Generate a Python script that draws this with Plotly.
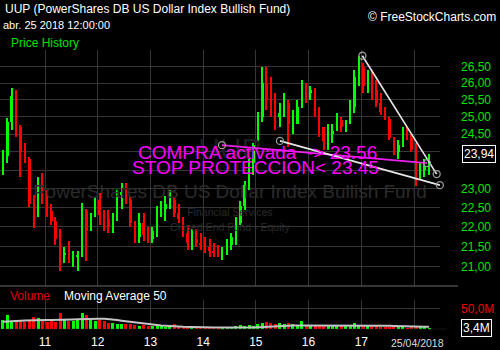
import numpy as np
import pandas as pd
import plotly.graph_objects as go

# ---------------- data: UUP monthly bars, Mar 2010 - Apr 2018 ----------------
months = pd.date_range("2010-03-01", periods=98, freq="MS") + pd.Timedelta(days=14)

first_open = 23.60
close = [23.90, 24.85, 25.60, 24.70, 24.00, 23.80, 22.60, 22.30, 23.10, 22.90,
         22.40, 22.15, 21.70, 21.30, 21.35, 21.20, 21.25, 21.30, 22.40, 21.90,
         22.30, 22.70, 22.30, 22.20, 22.00, 22.20, 22.85, 22.90, 22.70, 22.10,
         21.75, 22.10, 21.80, 21.70, 21.90, 22.40, 22.45, 22.60, 22.70, 22.35,
         22.20, 21.85, 21.60, 21.70, 21.60, 21.55, 21.50, 21.40, 21.35, 21.30,
         21.30, 21.55, 21.75, 22.10, 22.55, 23.10, 23.70, 24.20, 25.00, 26.00,
         25.50, 25.30, 25.00, 25.10, 25.40, 24.80, 24.80, 25.30, 25.90, 25.70,
         25.80, 25.20, 24.70, 24.30, 24.50, 24.60, 24.90, 24.70, 24.80, 25.30,
         26.20, 26.50, 25.90, 26.00, 25.80, 25.40, 25.15, 24.95, 24.40, 24.00,
         24.20, 24.60, 24.40, 24.05, 23.50, 23.50, 23.60, 23.94]
high = [24.05, 24.98, 25.84, 25.80, 24.75, 24.25, 23.85, 22.83, 23.30, 23.42,
        22.95, 22.60, 22.25, 21.95, 21.50, 21.65, 21.40, 21.40, 22.62, 22.45,
        22.35, 22.78, 22.87, 22.43, 22.43, 22.35, 22.95, 23.15, 23.15, 22.80,
        22.15, 22.35, 22.35, 22.00, 22.00, 22.55, 22.68, 22.80, 22.95, 22.78,
        22.60, 22.25, 22.05, 21.95, 21.95, 21.85, 21.75, 21.68, 21.60, 21.55,
        21.50, 21.68, 21.85, 22.25, 22.68, 23.20, 23.79, 24.25, 25.15, 26.50,
        26.50, 26.20, 25.70, 25.40, 25.70, 25.50, 25.20, 25.50, 26.10, 26.00,
        25.90, 25.85, 25.30, 24.70, 24.80, 24.80, 25.10, 25.00, 24.90, 25.50,
        26.40, 26.83, 26.60, 26.40, 26.40, 26.10, 25.70, 25.30, 25.00, 24.42,
        24.34, 24.70, 24.70, 24.50, 24.25, 23.70, 23.79, 23.95]
low = [23.36, 23.70, 24.63, 24.42, 23.30, 23.70, 22.50, 21.97, 22.25, 22.60,
       22.25, 22.05, 21.55, 20.90, 21.08, 21.08, 21.00, 20.90, 21.25, 21.15,
       21.90, 22.25, 22.05, 21.90, 21.85, 21.85, 22.15, 22.45, 22.60, 22.00,
       21.58, 21.58, 21.65, 21.58, 21.58, 21.75, 22.25, 22.15, 22.45, 22.25,
       22.10, 21.75, 21.41, 21.41, 21.49, 21.41, 21.35, 21.25, 21.25, 21.25,
       21.16, 21.30, 21.41, 21.55, 22.05, 22.43, 22.95, 23.36, 24.15, 24.85,
       25.20, 25.00, 24.63, 24.70, 25.00, 24.15, 24.50, 24.80, 25.25, 25.40,
       25.50, 25.00, 24.42, 24.05, 24.05, 24.25, 24.60, 24.55, 24.55, 24.80,
       25.10, 25.90, 25.70, 25.70, 25.50, 25.30, 25.05, 24.90, 24.34, 23.92,
       23.79, 24.15, 24.34, 24.00, 23.06, 23.22, 23.30, 23.36]
volume_m = [22, 35, 20, 18, 19, 18, 20, 30, 28, 20,
            18, 19, 18, 40, 22, 20, 20, 22, 40, 35,
            22, 20, 22, 20, 14, 14, 13, 12, 12, 12,
            10, 9, 10, 8, 8, 7, 7, 6, 6, 12,
            6, 5, 5, 5, 5, 6, 5, 5, 5, 4,
            4, 5, 5, 7, 10, 9, 10, 9, 12, 14,
            18, 14, 12, 14, 12, 14, 12, 10, 20, 10,
            10, 9, 8, 10, 9, 8, 8, 7, 7, 9,
            15, 10, 8, 7, 7, 8, 6, 6, 5, 5,
            6, 5, 4, 5, 6, 5, 5, 3.4]
ma50_m = [18, 19, 19.5, 20, 20.5, 21, 21.5, 22, 22, 22,
          22, 22, 22, 22.5, 23, 23, 23.5, 24, 24.5, 25,
          25, 25, 25, 25, 24.5, 23, 22, 20.5, 19, 18,
          16.5, 15, 13.5, 12, 11, 10, 9, 8, 7.5, 7,
          6.5, 6, 5.5, 5.2, 5, 5, 4.8, 4.5, 4.2, 4,
          3.8, 3.6, 3.5, 3.4, 3.4, 3.5, 4, 4.5, 5, 6,
          7, 8, 8.5, 8.5, 9, 9, 9, 9, 9, 9,
          9, 9, 9.5, 9.5, 10, 10, 10, 10, 10, 10,
          10, 10, 10, 10, 10, 10, 9.5, 9, 8.5, 8,
          7.5, 7, 6.5, 6.5, 6, 6, 6, 6]

price_ticks = [21.0, 21.5, 22.0, 22.5, 23.0, 23.5, 24.0, 24.5, 25.0, 25.5, 26.0, 26.5]
price_tick_text = ["21,00", "21,50", "22,00", "22,50", "23,00", "", "", "24,50",
                   "25,00", "25,50", "26,00", "26,50"]
year_ticks = ["2011-01-01", "2012-01-01", "2013-01-01", "2014-01-01",
              "2015-01-01", "2016-01-01", "2017-01-01", "2018-01-01"]
year_text = ["11", "12", "13", "14", "15", "16", "17", ""]

# drawn trend lines (date, price)
wedge_upper = (["2017-01-08", "2018-06-07"], [26.84, 23.39])
wedge_lower = (["2015-06-17", "2018-06-29"], [24.31, 23.09])
entry_line = (["2014-05-11", "2018-04-01"], [24.19, 23.69])

# ---------------- derived ----------------
close = np.array(close)
high = np.array(high)
low = np.array(low)
opn = np.concatenate([[first_open], close[:-1]])
up = close >= opn
vol = np.array(volume_m) * 1e6
ma50 = np.array(ma50_m) * 1e6

GREEN = "#00ff00"
RED = "#ff0000"
GRID = "#363636"
PX_MS = 365.25 * 86400000 / 52.7      # ms per screen pixel on the date axis
X_RANGE = ["2010-02-23", "2018-06-30"]
FONT = "Liberation Sans, Arial, sans-serif"

fig = go.Figure()

# faint watermark (drawn first so the bars sit on top)
for txt_, yv, size, col in [("UUP", 24.0, 30, "#1e1e1e"),
                            ("PowerShares DB US Dollar Index Bullish Fund", 22.88, 19, "#2b2b2b"),
                            ("Financial Services", 22.355, 10.5, "#2b2b2b"),
                            ("Closed End Fund - Equity", 21.97, 10.5, "#2b2b2b")]:
    fig.add_trace(go.Scatter(x=["2014-07-05"], y=[yv], mode="text", text=[txt_],
                             textfont=dict(family=FONT, size=size, color=col),
                             hoverinfo="skip", xaxis="x", yaxis="y"))

# price bars: wick (low-high) and body (open-close)
for mask, col in [(up, GREEN), (~up, RED)]:
    fig.add_trace(go.Bar(x=months[mask], y=(high - low)[mask], base=low[mask],
                         width=1.2 * PX_MS, marker=dict(color=col, line=dict(width=0)),
                         xaxis="x", yaxis="y", hoverinfo="skip"))
    body_lo = np.minimum(opn, close)[mask]
    body_h = np.abs(close - opn)[mask]
    fig.add_trace(go.Bar(x=months[mask], y=body_h, base=body_lo,
                         width=2.5 * PX_MS, marker=dict(color=col, line=dict(width=0)),
                         xaxis="x", yaxis="y", hoverinfo="skip"))

# trend lines
for (xs, ys), col in [(entry_line, "#ee22ee"), (wedge_lower, "#e8e8e8"), (wedge_upper, "#e8e8e8")]:
    fig.add_trace(go.Scatter(x=xs, y=ys, mode="lines", line=dict(color=col, width=1.6),
                             xaxis="x", yaxis="y", hoverinfo="skip"))
for xs, ys in [entry_line, wedge_lower, wedge_upper]:
    fig.add_trace(go.Scatter(x=xs, y=ys, mode="markers", cliponaxis=False,
                             marker=dict(symbol="circle-open", size=7, color="#9a9a9a",
                                         line=dict(color="#9a9a9a", width=1.3)),
                             xaxis="x", yaxis="y", hoverinfo="skip"))

# volume pane
vol_colors = np.where(up, GREEN, RED)
fig.add_trace(go.Bar(x=months, y=vol, width=3.0 * PX_MS,
                     marker=dict(color=vol_colors, line=dict(width=0)),
                     xaxis="x2", yaxis="y2", hoverinfo="skip"))
fig.add_trace(go.Scatter(x=months, y=ma50, mode="lines",
                         line=dict(color="#c4c4c4", width=2),
                         xaxis="x2", yaxis="y2", hoverinfo="skip"))

x_dom = [0, 0.88]
fig.update_layout(
    width=500, height=350, margin=dict(l=0, r=0, t=0, b=0),
    paper_bgcolor="black", plot_bgcolor="black", showlegend=False,
    barmode="overlay", bargap=0,
    font=dict(family=FONT, color="white", size=12),
    xaxis=dict(domain=x_dom, range=X_RANGE, type="date", anchor="y",
               tickvals=year_ticks, showticklabels=False, showgrid=True,
               gridcolor=GRID, gridwidth=1, zeroline=False, showline=False, ticks=""),
    yaxis=dict(domain=[64 / 350, 300 / 350], type="log", anchor="x",
               range=[np.log10(20.535), np.log10(27.02)], side="right",
               tickvals=price_ticks, ticktext=price_tick_text,
               tickfont=dict(color="#00e600", size=12, family=FONT),
               ticklabelstandoff=20, showgrid=True, gridcolor=GRID, gridwidth=1,
               zeroline=False, showline=False, ticks=""),
    xaxis2=dict(domain=x_dom, range=X_RANGE, type="date", anchor="y2",
                tickvals=year_ticks, ticktext=year_text,
                tickfont=dict(color="white", size=12, family=FONT),
                ticklabelstandoff=4,
                showgrid=True, gridcolor=GRID, gridwidth=1, zeroline=False,
                showline=False, ticks=""),
    yaxis2=dict(domain=[20.7 / 350, 50 / 350], anchor="x2", range=[0, 69.76e6],
                side="right", tickvals=[50e6], ticktext=["50,0M"],
                tickfont=dict(color="#ee0000", size=12, family=FONT),
                ticklabelstandoff=20, showgrid=True, gridcolor=GRID,
                zeroline=False, showline=False, ticks=""),
    shapes=[
        dict(type="line", xref="paper", yref="paper", x0=0, x1=0.916,
             y0=64 / 350, y1=64 / 350, line=dict(color="#6a6a6a", width=1)),
        dict(type="line", xref="x2 domain", yref="y2", x0=0, x1=1.015,
             y0=0, y1=0, line=dict(color=GRID, width=1)),
    ],
)

ann = []
def txt(x, y, s, size, color, xanchor="left", **kw):
    ann.append(dict(x=x, y=y, xref=kw.pop("xref", "paper"), yref=kw.pop("yref", "paper"),
                    text=s, showarrow=False, xanchor=xanchor, yanchor="middle",
                    font=dict(family=FONT, size=size, color=color), **kw))

txt(0.006, (350 - 9) / 350, "UUP (PowerShares DB US Dollar Index Bullish Fund)", 12, "white")
txt(0.002, (350 - 25) / 350, "abr. 25 2018 12:00:00", 11, "white")
txt(0.018, (350 - 43) / 350, "Price History", 12, "#00e000")
txt(0.996, (350 - 17) / 350, "© FreeStockCharts.com", 12, "white", xanchor="right")
txt(0.016, (350 - 296) / 350, "Volume", 12, "#e00000")
txt(0.124, (350 - 296) / 350, "Moving Average 50", 12, "white")
txt(0.834, (350 - 343) / 350, "25/04/2018", 10.5, "#dcdcdc", xanchor="center")
txt(0.272, (350 - 152) / 350, "COMPRA activada\u00a0\u00a0-> 23.56", 19, "#ff00ff")
txt(0.260, (350 - 167.5) / 350, "STOP PROTECCION< 23.45", 19, "#ff00ff")
# current value boxes
txt(0.958, float(np.log10(close[-1])), f"{close[-1]:.2f}".replace(".", ","), 12, "white",
    xanchor="center", yref="y", bordercolor="white", borderwidth=1, borderpad=1,
    bgcolor="black")
txt(0.952, float(vol[-1]), f"{volume_m[-1]:.1f}M".replace(".", ","), 12, "white",
    xanchor="center", yref="y2", bordercolor="white", borderwidth=1, borderpad=1,
    bgcolor="black")
fig.update_layout(annotations=ann)

fig.write_html("out.html")
